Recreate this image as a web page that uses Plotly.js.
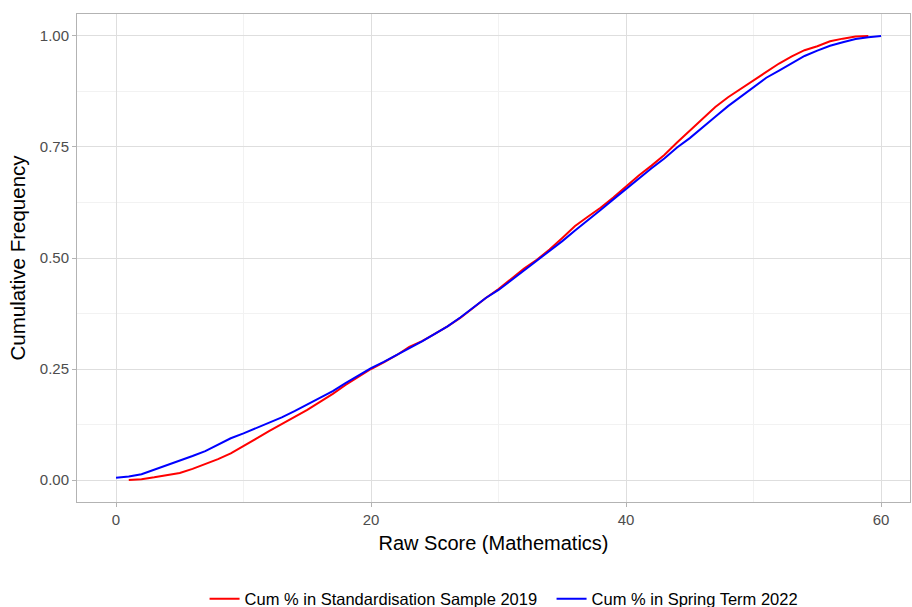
<!DOCTYPE html>
<html>
<head>
<meta charset="utf-8">
<script src="https://cdn.plot.ly/plotly-3.0.1.min.js"></script>
<style>
  html, body { margin: 0; padding: 0; background: #fff; }
  #chart { width: 912px; height: 607px; }
</style>
</head>
<body>
<div id="chart"></div>
<script>
// Cumulative frequency of raw maths scores
const scores2019 = [1,2,3,4,5,6,7,8,9,10,11,12,13,14,15,16,17,18,19,20,21,22,23,24,25,26,27,28,29,30,
  31,32,33,34,35,36,37,38,39,40,41,42,43,44,45,46,47,48,49,50,51,52,53,54,55,56,57,58,59];
const cum2019 = [0.000,0.002,0.006,0.011,0.016,0.025,0.036,0.047,0.060,0.076,0.093,0.110,0.126,0.141,0.158,
  0.176,0.194,0.214,0.232,0.250,0.265,0.281,0.300,0.313,0.329,0.346,0.365,0.388,0.410,0.430,
  0.454,0.476,0.496,0.519,0.545,0.572,0.593,0.613,0.636,0.661,0.686,0.708,0.732,0.760,0.787,
  0.814,0.840,0.862,0.881,0.899,0.920,0.938,0.954,0.968,0.977,0.988,0.994,0.999,1.000];

const scores2022 = [0,1,2,3,4,5,6,7,8,9,10,11,12,13,14,15,16,17,18,19,20,21,22,23,24,25,26,27,28,29,30,
  31,32,33,34,35,36,37,38,39,40,41,42,43,44,45,46,47,48,49,50,51,52,53,54,55,56,57,58,59,60];
const cum2022 = [0.005,0.008,0.013,0.023,0.033,0.043,0.054,0.065,0.079,0.094,0.105,0.117,0.129,0.141,0.155,
  0.170,0.186,0.200,0.218,0.236,0.252,0.266,0.281,0.297,0.312,0.329,0.346,0.366,0.388,0.410,
  0.428,0.450,0.472,0.493,0.515,0.538,0.562,0.584,0.608,0.632,0.656,0.680,0.702,0.724,0.749,
  0.770,0.795,0.818,0.842,0.864,0.885,0.906,0.922,0.938,0.955,0.967,0.978,0.986,0.993,0.997,1.000];

const seriesNames = ["Cum % in Standardisation Sample 2019", "Cum % in Spring Term 2022"];
const xTicks = [0, 20, 40, 60];
const yTicks = [0, 0.25, 0.5, 0.75, 1];
const yTickText = ["0.00", "0.25", "0.50", "0.75", "1.00"];

const traces = [
  { x: scores2019, y: cum2019, name: seriesNames[0], type: "scatter", mode: "lines",
    line: { color: "#ff0000", width: 2 } },
  { x: scores2022, y: cum2022, name: seriesNames[1], type: "scatter", mode: "lines",
    line: { color: "#0000ff", width: 2 } }
];

const axisCommon = {
  showline: true, mirror: true, linecolor: "#b3b3b3", linewidth: 1,
  zeroline: false, showgrid: true, gridcolor: "#dedede", gridwidth: 1,
  ticks: "outside", ticklen: 4, tickcolor: "#b3b3b3",
  tickfont: { family: "Liberation Sans, Arial, sans-serif", size: 15, color: "#4d4d4d" }
};

const layout = {
  width: 912, height: 607,
  paper_bgcolor: "#ffffff", plot_bgcolor: "#ffffff",
  margin: { l: 77, r: 2, t: 14, b: 105 },
  font: { family: "Liberation Sans, Arial, sans-serif" },
  showlegend: true,
  legend: {
    orientation: "h", x: 0.2243, xanchor: "left", xref: "container",
    y: 0.013, yanchor: "middle", yref: "container",
    font: { size: 16.5, color: "#000" }, itemwidth: 30, tracegroupgap: 0,
    entrywidth: 302
  },
  xaxis: Object.assign({}, axisCommon, {
    range: [-3.06, 62.27], tickvals: xTicks,
    minor: { dtick: 10, tick0: 0, showgrid: true, gridcolor: "#f2f2f2", ticks: "" },
    title: { text: "Raw Score (Mathematics)", standoff: 8,
      font: { size: 20, color: "#000" } }
  }),
  yaxis: Object.assign({}, axisCommon, {
    range: [-0.0495, 1.0495], tickvals: yTicks, ticktext: yTickText,
    minor: { dtick: 0.125, tick0: 0, showgrid: true, gridcolor: "#f2f2f2", ticks: "" },
    title: { text: "Cumulative Frequency", standoff: 8,
      font: { size: 20.5, color: "#000" } }
  })
};

Plotly.newPlot("chart", traces, layout, { displayModeBar: false, staticPlot: true });
</script>
</body>
</html>
